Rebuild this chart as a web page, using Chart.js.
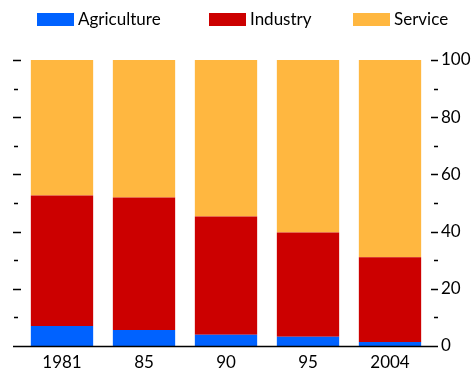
<!DOCTYPE html>
<html>
<head>
<meta charset="utf-8">
<script src="https://cdn.jsdelivr.net/npm/chart.js@4"></script>
<style>
  html, body { margin: 0; padding: 0; background: #fff; }
  #wrap { position: relative; width: 474px; height: 371px; }
  #legendShares { position: absolute; left: 0; top: 0; width: 474px; height: 40px;
                  font-family: Lato, sans-serif; font-size: 17px; color: #000; }
  #legendShares .item { position: absolute; top: 8px; height: 21px; line-height: 21px; white-space: nowrap; }
  #legendShares .box { display: inline-block; width: 37px; height: 13px; margin-right: 4px; vertical-align: -1px; }
</style>
</head>
<body>
<div id="wrap">
  <canvas id="chartShares"></canvas>
  <div id="legendShares"></div>
</div>
<script>
// data (percent of total)
var years = ['1981', '85', '90', '95', '2004'];
var agriculture = [7.0, 5.6, 3.9, 3.2, 1.4];
var industry = [45.6, 46.3, 41.4, 36.5, 29.6];
var service = [47.4, 48.1, 54.7, 60.3, 69.0];
var yTicks = [0, 20, 40, 60, 80, 100];
var legendLeft = [37, 209, 353];

// draws the tick dashes on both sides and the base line
var axisMarks = {
    id: 'axisMarks',
    afterDraw: function(chart) {
        var ctx = chart.ctx;
        var area = chart.chartArea;
        var y = chart.scales.y;
        ctx.save();
        ctx.strokeStyle = '#000';
        ctx.lineWidth = 1.3;
        for (var v = 10; v <= 100; v += 10) {
            var py = Math.round(y.getPixelForValue(v)) + 0.5;
            var major = yTicks.indexOf(v) >= 0;
            ctx.beginPath();
            ctx.moveTo(major ? area.left - 8 : area.left - 7, py);
            ctx.lineTo(major ? area.left : area.left - 3, py);
            ctx.moveTo(major ? area.right : area.right + 3, py);
            ctx.lineTo(area.right + 7, py);
            ctx.stroke();
        }
        var by = Math.round(y.getPixelForValue(0)) + 0.5;
        ctx.lineWidth = 1.5;
        ctx.beginPath();
        ctx.moveTo(area.left - 8, by);
        ctx.lineTo(area.right + 7, by);
        ctx.stroke();
        ctx.restore();
    }
};

var ctx = document.getElementById('chartShares');
var myChartShares = new Chart(ctx, {
    type: 'bar',
    data: {
        labels: years,
        datasets: [{
            label: 'Agriculture',
            data: agriculture,
            backgroundColor: 'rgb(0, 98, 255)',
            },{
            label: 'Industry',
            data: industry,
            backgroundColor: 'rgb(204, 0, 0)',
            },{
            label: 'Service',
            data: service,
            backgroundColor: 'rgb(255, 183, 64)',
            }
        ]
    },
    options: {
        responsive: true,
        maintainAspectRatio: false,
        animation: false,
        categoryPercentage: 0.76,
        barPercentage: 1,
        layout: {
            padding: { left: 21, right: 0, top: 60, bottom: 0 }
        },
        plugins: {
            legend: { display: false },
            tooltip: { enabled: false }
        },
        scales: {
            x: {
                stacked: true,
                grid: { display: false, drawTicks: false },
                border: { display: false },
                ticks: {
                    color: '#000',
                    padding: 6,
                    font: { family: 'Lato', size: 17 }
                },
                afterFit: function(scale) {
                    scale.height = 25;
                }
            },
            y: {
                stacked: true,
                position: 'right',
                min: 0,
                max: 100,
                grid: { display: false, drawTicks: false },
                border: { display: false },
                ticks: {
                    stepSize: 10,
                    padding: 10,
                    color: '#000',
                    font: { family: 'Lato', size: 17 },
                    callback: function(value) {
                        return yTicks.indexOf(value) >= 0 ? value : '';
                    }
                },
                afterFit: function(scale) {
                    scale.width = 43;
                }
            }
        }
    },
    plugins: [axisMarks]
});

// legend built from the datasets
var legendDiv = document.getElementById('legendShares');
myChartShares.data.datasets.forEach(function(ds, i) {
    legendDiv.insertAdjacentHTML('beforeend',
        "<div class='item' style='left:" + legendLeft[i] + "px'><span class='box' style='background:" +
        ds.backgroundColor + "'></span>" + ds.label + "</div>");
});
</script>
</body>
</html>
